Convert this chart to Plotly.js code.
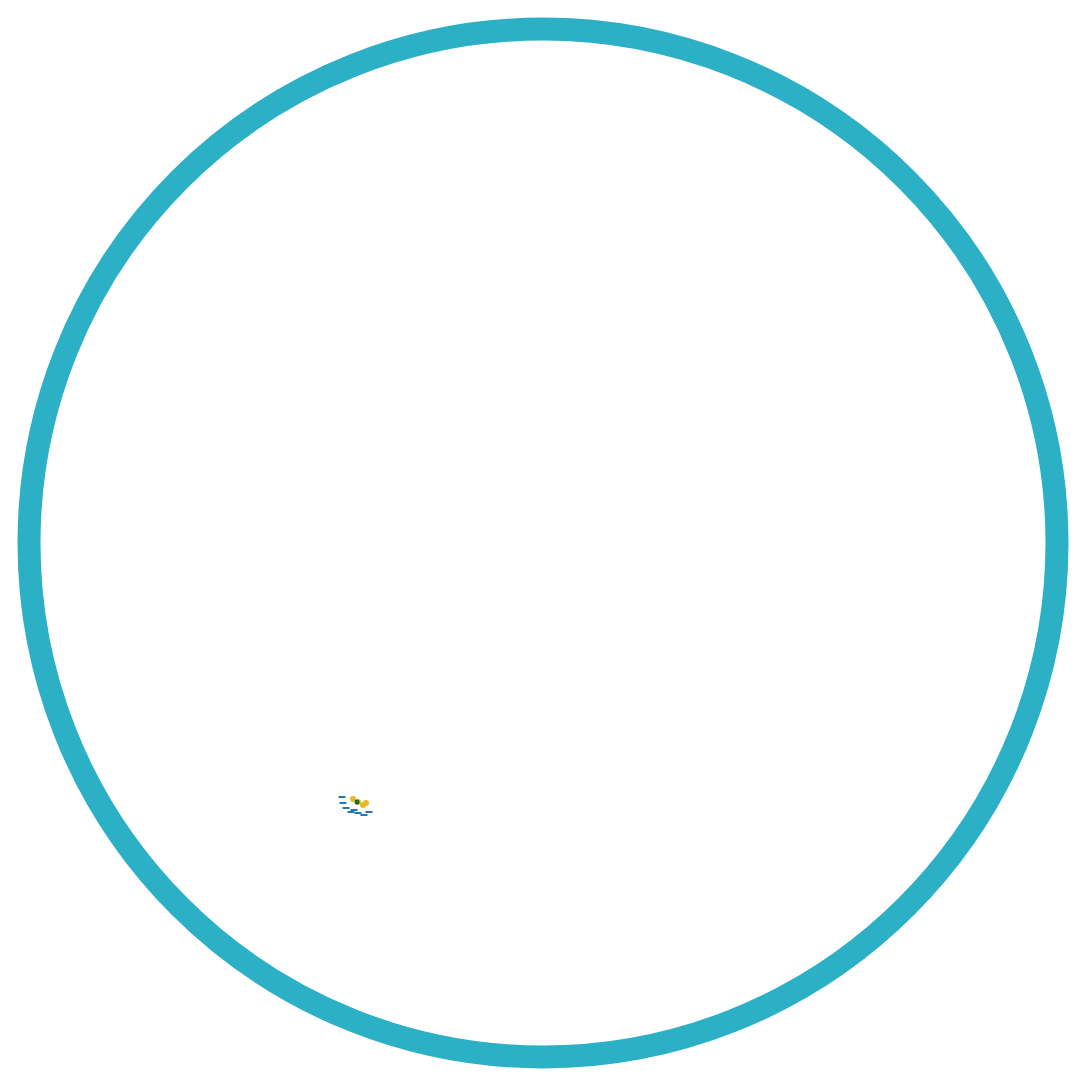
<!DOCTYPE html>
<html>
<head>
<meta charset="utf-8">
<script src="https://cdn.plot.ly/plotly-3.0.1.min.js"></script>
<style>html,body{margin:0;padding:0;background:#fff}#chart{width:1086px;height:1086px}</style>
</head>
<body>
<div id="chart"></div>
<script>
// ring centre and radius in plot units (pixels of the 1086 frame)
const ringX = [543];
const ringY = [543];
const ringR = [514];

// the small cluster of marks inside the ring
const leafX = [342, 343, 346, 351, 354, 358, 364, 369];
const leafY = [797, 803, 808, 812, 810, 813, 815, 812];
const blobX = [353, 358, 363, 366];
const blobY = [799, 802, 805, 803];
const eyeX = [357];
const eyeY = [802];

const traces = [
  {
    x: leafX, y: leafY, type: "scatter", mode: "markers",
    marker: { symbol: "line-ew-open", size: 5, line: { color: "#1faa2a", width: 2 } },
    hoverinfo: "skip",
  },
  {
    x: blobX, y: blobY, type: "scatter", mode: "markers",
    marker: { color: "#e8b820", size: 6, line: { width: 0 } },
    hoverinfo: "skip",
  },
  {
    x: eyeX, y: eyeY, type: "scatter", mode: "markers",
    marker: { color: "#1c6b1c", size: 5 },
    hoverinfo: "skip",
  },
];

const shapes = ringX.map((cx, i) => ({
  type: "circle", xref: "x", yref: "y",
  x0: cx - ringR[i], x1: cx + ringR[i],
  y0: ringY[i] - ringR[i], y1: ringY[i] + ringR[i],
  line: { color: "#2cb0c6", width: 23 },
}));

const layout = {
  width: 1086, height: 1086,
  margin: { l: 0, r: 0, t: 0, b: 0 },
  paper_bgcolor: "#fff", plot_bgcolor: "#fff",
  showlegend: false,
  xaxis: { range: [0, 1086], visible: false, fixedrange: true },
  yaxis: { range: [1086, 0], visible: false, fixedrange: true },
  shapes: shapes,
};

Plotly.newPlot("chart", traces, layout, { staticPlot: true });
</script>
</body>
</html>
